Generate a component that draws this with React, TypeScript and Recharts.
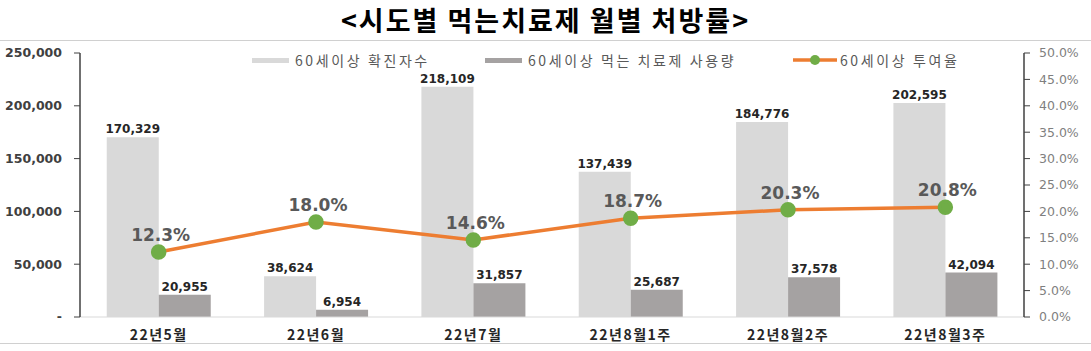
import {
  ComposedChart,
  Bar,
  Line,
  XAxis,
  YAxis,
  LabelList,
} from "recharts";

const categories = ["22년5월", "22년6월", "22년7월", "22년8월1주", "22년8월2주", "22년8월3주"];
const confirmed = [170329, 38624, 218109, 137439, 184776, 202595];
const pillUsage = [20955, 6954, 31857, 25687, 37578, 42094];
const rate = [12.3, 18.0, 14.6, 18.7, 20.3, 20.8];

const leftTicks = [0, 50000, 100000, 150000, 200000, 250000];
const rightTicks = [0, 5, 10, 15, 20, 25, 30, 35, 40, 45, 50];

const LIGHT = "#D9D9D9";
const DARK = "#A5A2A2";
const ORANGE = "#ED7D31";
const GREEN = "#70AD47";
const NUM_FONT = "'DejaVu Sans', 'Noto Sans CJK KR', sans-serif";
const KR_FONT = "'Noto Sans CJK KR', 'Noto Sans', sans-serif";

const data = categories.map((name, i) => ({
  name,
  confirmed: confirmed[i],
  pillUsage: pillUsage[i],
  rate: rate[i],
}));

function RateLabel(props: any) {
  const { x, y, value } = props;
  return (
    <text
      x={x + 2}
      y={y - 11}
      textAnchor="middle"
      fontFamily={NUM_FONT}
      fontWeight="bold"
      fontSize={17}
      fill="#595959"
    >
      {Number(value).toFixed(1)}%
    </text>
  );
}

function LegendItem({ left, kind, color, label }: { left: number; kind: "bar" | "line"; color: string; label: string }) {
  return (
    <div style={{ position: "absolute", top: 50, left, display: "flex", alignItems: "center", whiteSpace: "nowrap" }}>
      {kind === "bar" ? (
        <div style={{ width: 37, height: 5, background: color, marginRight: 6 }} />
      ) : (
        <svg width={44} height={12} style={{ marginRight: 3 }}>
          <line x1={0} y1={6} x2={44} y2={6} stroke={ORANGE} strokeWidth={3.5} />
          <circle cx={22} cy={6} r={5} fill={GREEN} />
        </svg>
      )}
      <span style={{ fontFamily: KR_FONT, fontSize: 14, letterSpacing: 2.6, color: "#595959" }}>{label}</span>
    </div>
  );
}

export default function App() {
  return (
    <div
      style={{
        position: "absolute",
        left: 0,
        top: 0,
        width: 1091,
        height: 351,
        background: "#fff",
        overflow: "hidden",
      }}
    >
      <div
        style={{
          position: "absolute",
          top: 0,
          left: 0,
          width: 1091,
          textAlign: "center",
          fontFamily: KR_FONT,
          fontWeight: 700,
          fontSize: 27,
          letterSpacing: 2,
          color: "#000",
        }}
      >
        {"<시도별 먹는치료제 월별 처방률>"}
      </div>
      <div style={{ position: "absolute", top: 40, left: 0, width: 1091, height: 1, background: "#D0D0D0" }} />
      <div style={{ position: "absolute", top: 343, left: 0, width: 1091, height: 1, background: "#D0D0D0" }} />
      <LegendItem left={252} kind="bar" color={LIGHT} label="60세이상 확진자수" />
      <LegendItem left={485} kind="bar" color={DARK} label="60세이상 먹는 치료제 사용량" />
      <LegendItem left={793} kind="line" color={ORANGE} label="60세이상 투여율" />
      <div style={{ position: "absolute", left: 0, top: 0 }}>
        <ComposedChart
          width={1091}
          height={351}
          data={data}
          margin={{ top: 53, right: 0, left: 0, bottom: 9 }}
          barCategoryGap="17%"
          barGap={0}
        >
          <XAxis
            dataKey="name"
            height={25}
            axisLine={{ stroke: "#D9D9D9" }}
            tickLine={false}
            tickMargin={7}
            tick={{ fontFamily: KR_FONT, fontWeight: 700, fontSize: 14, letterSpacing: 1.5, fill: "#262626" }}
          />
          <YAxis
            yAxisId="left"
            width={80}
            domain={[0, 250000]}
            ticks={leftTicks}
            interval={0}
            axisLine={{ stroke: "#404040", strokeWidth: 1.5 }}
            tickLine={{ stroke: "#404040" }}
            tickSize={6}
            tickMargin={12}
            tickFormatter={(v: number) => (v === 0 ? "-" : v.toLocaleString("en-US"))}
            tick={{ fontFamily: NUM_FONT, fontWeight: 700, fontSize: 12.5, fill: "#404040" }}
          />
          <YAxis
            yAxisId="right"
            orientation="right"
            width={67}
            domain={[0, 50]}
            ticks={rightTicks}
            interval={0}
            axisLine={{ stroke: "#404040", strokeWidth: 1.5 }}
            tickLine={{ stroke: "#404040" }}
            tickSize={6}
            tickMargin={9}
            tickFormatter={(v: number) => v.toFixed(1) + "%"}
            tick={{ fontFamily: NUM_FONT, fontSize: 12.5, fill: "#7F7F7F" }}
          />
          <Bar yAxisId="left" dataKey="confirmed" fill={LIGHT} isAnimationActive={false}>
            <LabelList
              dataKey="confirmed"
              position="top"
              offset={4}
              formatter={(v: any) => Number(v).toLocaleString("en-US")}
              style={{ fontFamily: NUM_FONT, fontWeight: 700, fontSize: 12, fill: "#262626" }}
            />
          </Bar>
          <Bar yAxisId="left" dataKey="pillUsage" fill={DARK} isAnimationActive={false}>
            <LabelList
              dataKey="pillUsage"
              position="top"
              offset={4}
              formatter={(v: any) => Number(v).toLocaleString("en-US")}
              style={{ fontFamily: NUM_FONT, fontWeight: 700, fontSize: 12, fill: "#262626" }}
            />
          </Bar>
          <Line
            yAxisId="right"
            dataKey="rate"
            stroke={ORANGE}
            strokeWidth={3.5}
            dot={{ r: 6, fill: GREEN, stroke: GREEN }}
            isAnimationActive={false}
          >
            <LabelList dataKey="rate" content={RateLabel} />
          </Line>
        </ComposedChart>
      </div>
    </div>
  );
}
